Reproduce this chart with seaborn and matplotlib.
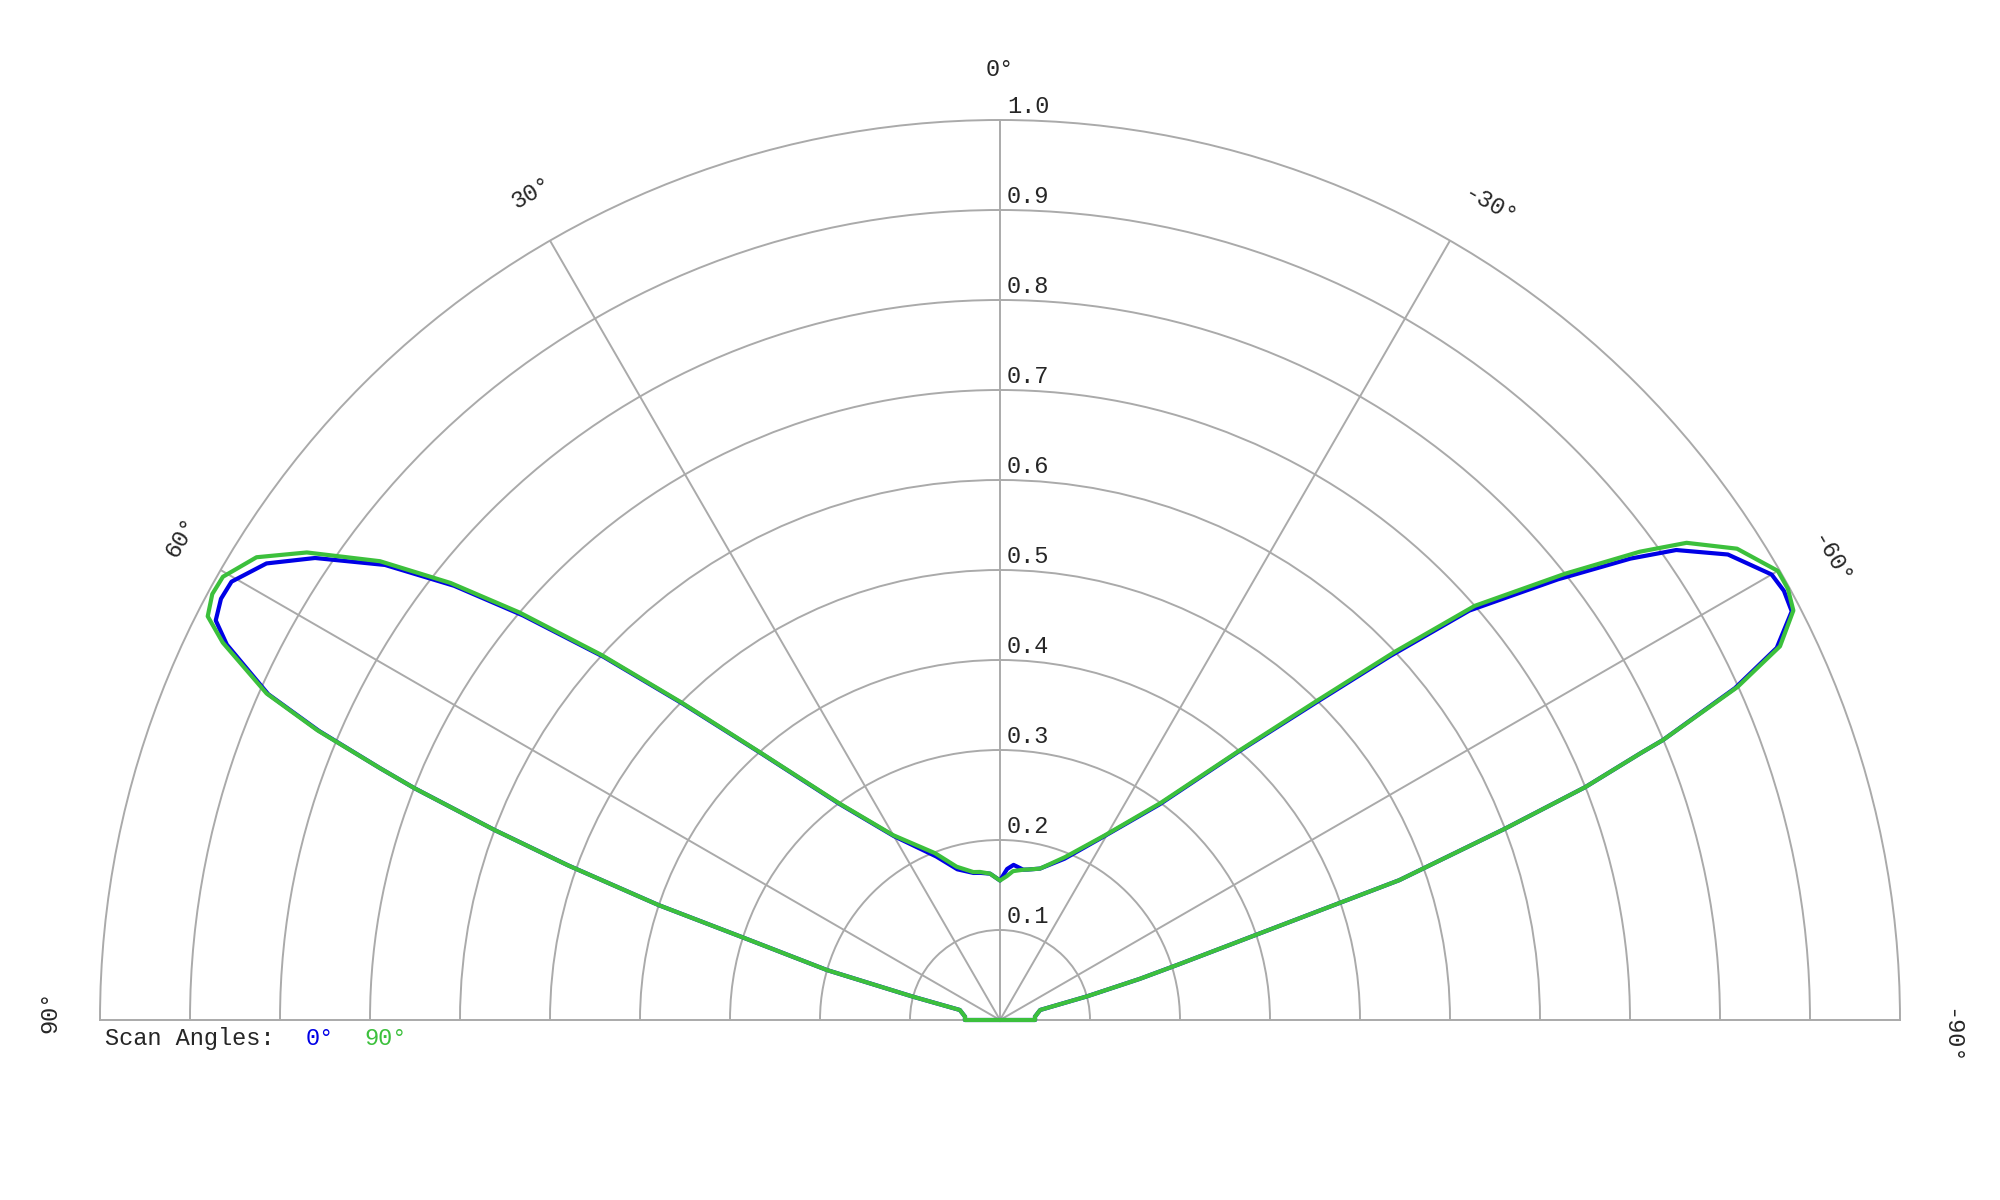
import numpy as np
import matplotlib
matplotlib.use('Agg')
import matplotlib.pyplot as plt
import matplotlib.transforms as mtransforms
import seaborn as sns

sns.set_style('white')
plt.rcParams['font.family'] = ['Liberation Mono', 'DejaVu Sans Mono']

# polar angle in degrees (0 = up, positive to the left)
theta_deg = [-90, -90, -84.6, -76, -74.8, -73.6, -72.7, -71.6, -70.7, -69.25,
             -68.3, -67.4, -67.1, -65.7, -64.4, -62.7, -61.3, -60, -57.4, -55.2,
             -53.8, -51.7, -48.9, -47, -44.8, -41.6, -36.5, -29.6, -21.8, -14.8,
             -10.5, -8.8, -5, -2.7, 0, 3.9, 7.7, 10.2, 15.8, 21.3,
             30, 36.6, 41.9, 45.1, 47.5, 49.7, 51.5, 53.5, 56, 58.1,
             60.3, 61.6, 63, 64.1, 66, 67, 67.9, 68.4, 69.4, 70.3,
             71.4, 72.2, 73.9, 75, 76, 84.6, 90, 90]

# relative intensity, scan angle 0 deg
r_scan0 = [0, 0.039, 0.039, 0.046, 0.10, 0.162, 0.209, 0.30, 0.47, 0.60,
           0.70, 0.77, 0.80, 0.896, 0.957, 0.990, 0.993, 0.990, 0.960, 0.915,
           0.868, 0.790, 0.692, 0.593, 0.495, 0.398, 0.298, 0.235, 0.193, 0.174,
           0.170, 0.169, 0.173, 0.168, 0.155, 0.163, 0.165, 0.166, 0.174, 0.195,
           0.236, 0.299, 0.399, 0.498, 0.597, 0.695, 0.775, 0.850, 0.918, 0.960,
           0.983, 0.984, 0.978, 0.955, 0.890, 0.822, 0.743, 0.70, 0.60, 0.51,
           0.40, 0.30, 0.20, 0.10, 0.046, 0.039, 0.039, 0]

# relative intensity, scan angle 90 deg
r_scan90 = [0, 0.039, 0.039, 0.046, 0.10, 0.162, 0.209, 0.30, 0.47, 0.60,
            0.70, 0.77, 0.80, 0.899, 0.961, 0.992, 0.998, 0.998, 0.972, 0.929,
            0.881, 0.80, 0.70, 0.60, 0.50, 0.40, 0.30, 0.236, 0.195, 0.174,
            0.170, 0.169, 0.166, 0.160, 0.155, 0.163, 0.166, 0.167, 0.177, 0.199,
            0.237, 0.30, 0.40, 0.50, 0.60, 0.70, 0.78, 0.857, 0.929, 0.973,
            0.994, 0.995, 0.988, 0.960, 0.892, 0.824, 0.743, 0.70, 0.60, 0.51,
            0.40, 0.30, 0.20, 0.10, 0.046, 0.039, 0.039, 0]

radial_ticks = [0.1, 0.2, 0.3, 0.4, 0.5, 0.6, 0.7, 0.8, 0.9, 1.0]
radial_labels = ['0.1', '0.2', '0.3', '0.4', '0.5', '0.6', '0.7', '0.8', '0.9', '1.0']
angle_ticks = [-90, -60, -30, 0, 30, 60, 90]
angle_labels = ['-90°', '-60°', '-30°', '0°', '30°', '60°', '90°']
scan_names = ['0°', '90°']
scan_colors = ['#0000e6', '#3cc03c']

grid_col = '#aaaaaa'
fs = 17

fig = plt.figure(figsize=(20, 12), dpi=100)
# square box 1800 px; the half wedge sits in its middle band
ax = fig.add_axes([0.05, -0.225, 0.9, 1.5], projection='polar')
ax.set_theta_zero_location('N')
ax.set_theta_direction(1)
ax.set_thetamin(-90)
ax.set_thetamax(90)
ax.set_ylim(0, 1.0)

ax.set_yticks(radial_ticks[:-1])
ax.set_yticklabels([])
ax.set_xticks(np.deg2rad(angle_ticks[1:-1]))
ax.set_xticklabels([])
ax.tick_params(length=0)
ax.grid(True, color=grid_col, lw=1.4)
for sp in ax.spines.values():
    sp.set_color(grid_col)
    sp.set_linewidth(1.4)

# curves, 90 deg scan drawn on top
for r, c in zip([r_scan0, r_scan90], scan_colors):
    sns.lineplot(x=np.deg2rad(theta_deg), y=r, ax=ax, sort=False,
                 estimator=None, color=c, lw=3, clip_on=False, zorder=5)
ax.set_xlabel('')
ax.set_ylabel('')

# radial value labels just right of the 0 deg line
offset = mtransforms.ScaledTranslation(0.07, 0.07, fig.dpi_scale_trans)
for t, lab in zip(radial_ticks, radial_labels):
    ax.text(0, t, lab, transform=ax.transData + offset, ha='left',
            va='baseline', fontsize=fs)

# angle labels around the outside (nudged a little clockwise)
for a, lab in zip(angle_ticks, angle_labels):
    shift = -1.0 if a < 0 else (-0.5 if a > 0 else 0)
    ax.text(np.deg2rad(a + shift), 1.056, lab, rotation=a,
            rotation_mode='anchor', ha='center', va='center', fontsize=fs)

# scan angle key under the baseline
y0 = (1200 - 1045) / 1200
fig.text(105 / 2000, y0, 'Scan Angles:', fontsize=fs, ha='left', va='baseline')
fig.text(306 / 2000, y0, scan_names[0], fontsize=fs, ha='left',
         va='baseline', color=scan_colors[0])
fig.text(364 / 2000, y0, scan_names[1], fontsize=fs, ha='left',
         va='baseline', color=scan_colors[1])

fig.savefig('out.png', dpi=100, facecolor='white')
